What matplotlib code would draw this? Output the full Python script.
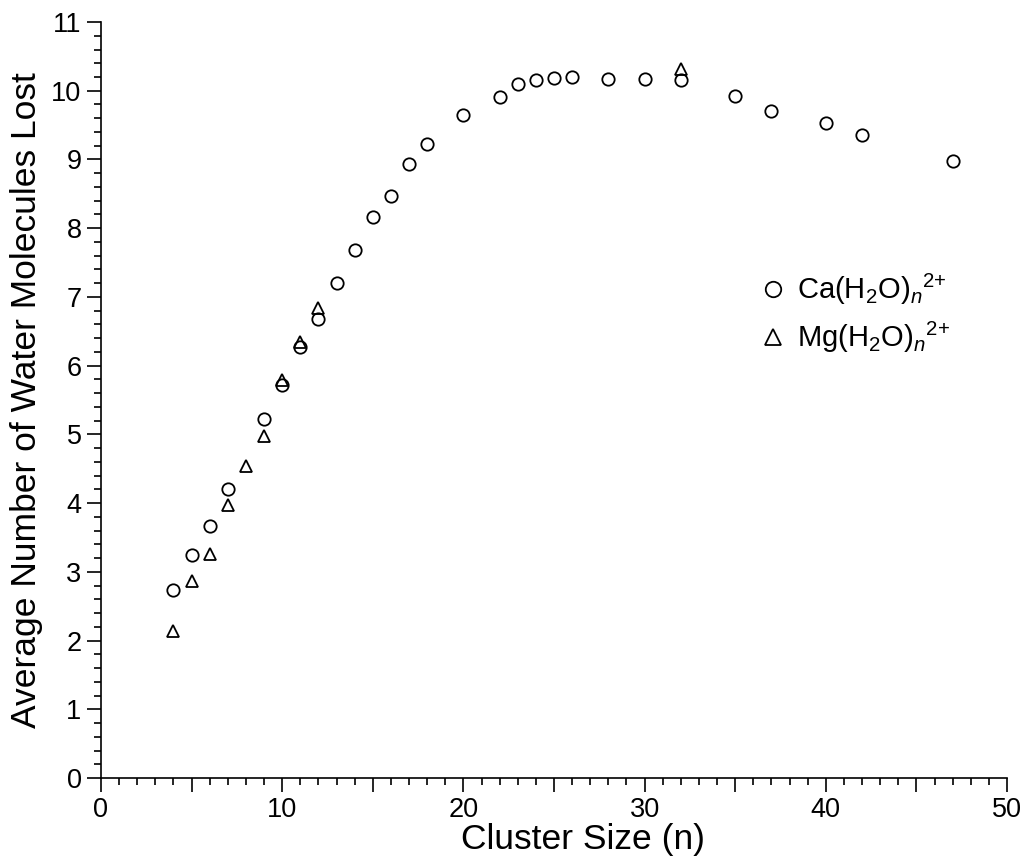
import numpy as np
import matplotlib.pyplot as plt
from matplotlib.ticker import MultipleLocator, FuncFormatter

plt.rcParams['font.family'] = ['Liberation Sans', 'DejaVu Sans']
plt.rcParams['mathtext.fontset'] = 'custom'
plt.rcParams['mathtext.rm'] = 'Liberation Sans'
plt.rcParams['mathtext.it'] = 'Liberation Sans:italic'

# Ca(H2O)n 2+ data
ca_n = [4, 5, 6, 7, 9, 10, 11, 12, 13, 14, 15, 16, 17, 18, 20, 22, 23, 24, 25, 26,
        28, 30, 32, 35, 37, 40, 42, 47]
ca_lost = [2.74, 3.25, 3.67, 4.20, 5.23, 5.72, 6.27, 6.68, 7.21, 7.69, 8.16, 8.47, 8.94, 9.23,
           9.64, 9.91, 10.10, 10.15, 10.19, 10.20, 10.17, 10.17, 10.15, 9.92, 9.71, 9.53,
           9.36, 8.98]

# Mg(H2O)n 2+ data
mg_n = [4, 5, 6, 7, 8, 9, 10, 11, 12, 32]
mg_lost = [2.14, 2.86, 3.26, 3.97, 4.54, 4.98, 5.79, 6.35, 6.84, 10.31]

fig = plt.figure(figsize=(10.26, 8.6), dpi=100)
ax = fig.add_axes([0.0984, 0.0953, 0.8831, 0.8791])

ax.plot(ca_n, ca_lost, linestyle='none', marker='o', markersize=8.9,
        markerfacecolor='none', markeredgecolor='black', markeredgewidth=1.3,
        label=r'Ca(H$_\mathregular{2}$O)$_{\mathit{n}}$$^{\mathregular{2{+}}}$')
ax.plot(mg_n, mg_lost, linestyle='none', marker='^', markersize=8.9,
        markerfacecolor='none', markeredgecolor='black', markeredgewidth=1.3,
        label=r'Mg(H$_\mathregular{2}$O)$_{\mathit{n}}$$^{\mathregular{2{+}}}$')

ax.set_xlim(0, 50)
ax.set_ylim(0, 11)

for s in ['top', 'right']:
    ax.spines[s].set_visible(False)
for s in ['left', 'bottom']:
    ax.spines[s].set_linewidth(1.2)

ax.xaxis.set_major_locator(MultipleLocator(5))
ax.xaxis.set_minor_locator(MultipleLocator(1))
ax.xaxis.set_major_formatter(FuncFormatter(lambda v, p: '%d' % v if v % 10 == 0 else ''))
ax.yaxis.set_major_locator(MultipleLocator(1))
ax.yaxis.set_minor_locator(MultipleLocator(0.2))

ax.tick_params(axis='both', which='major', direction='out', length=10, width=1.2,
               labelsize=19.5, pad=4)
ax.tick_params(axis='both', which='minor', direction='out', length=5, width=1.2)

ax.set_xlabel('Cluster Size (n)', fontsize=25.5)
ax.set_ylabel('Average Number of Water Molecules Lost', fontsize=25.5)
ax.xaxis.set_label_coords(0.532, -0.06)
ax.yaxis.set_label_coords(-0.064, 0.5)

ax.legend(loc='upper left', bbox_to_anchor=(0.71, 0.685), frameon=False, fontsize=21,
          markerscale=1.25, handletextpad=0.2, labelspacing=0.45, borderaxespad=0,
          handlelength=1.2)

fig.savefig('out.png', dpi=100)
